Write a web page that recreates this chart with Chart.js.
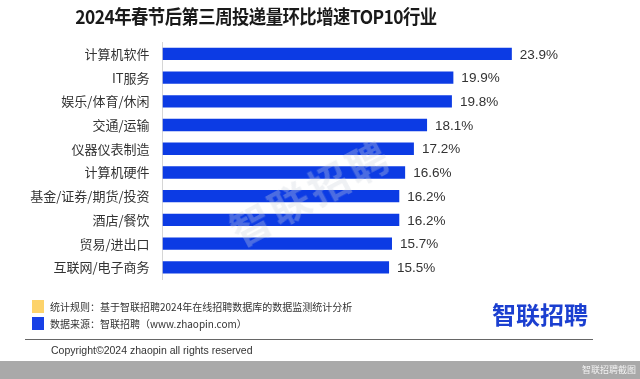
<!DOCTYPE html>
<html>
<head>
<meta charset="utf-8">
<script src="https://cdn.jsdelivr.net/npm/chart.js@4.4.1/dist/chart.umd.min.js"></script>
<style>
  html, body { margin: 0; padding: 0; background: #fff; }
  body { width: 640px; height: 379px; position: relative; overflow: hidden;
         font-family: "Noto Sans CJK SC", "Noto Sans", sans-serif; }
  #wrap { position: absolute; left: 0; top: 0; width: 640px; height: 300px; }
  .abs { position: absolute; white-space: nowrap; }
  #title { left: 0; width: 512px; top: 2px; text-align: center; font-size: 19px; font-weight: bold;
           color: #1a1a1a; letter-spacing: -0.6px; transform: scaleX(0.915); transform-origin: 256px 0; }
  .sq { position: absolute; width: 12px; height: 13px; }
  .foot { font-size: 10px; color: #333; }
  #logo { left: 492px; top: 296px; font-size: 24px; font-weight: bold; color: #1b3fd0; }
  #hr { left: 25px; top: 339px; width: 568px; height: 0; border-top: 1.5px solid #666; }
  #copy { left: 51px; top: 344px; font-size: 10.5px; color: #333; font-family: "Liberation Sans", Arial, sans-serif; }
  #band { left: 0; top: 361px; width: 640px; height: 18px; background: #a9a9a9; }
  #bandtxt { right: 4px; top: 363px; font-size: 9px; color: #f2f2f2; }
  #wm { left: 222px; top: 162px; font-size: 40px; font-weight: bold; color: rgba(205,210,222,0.32);
        transform: rotate(-28deg); transform-origin: center; pointer-events: none; letter-spacing: 4px; }
</style>
</head>
<body>
<div id="wrap"><canvas id="c" width="640" height="300"></canvas></div>
<div class="abs" id="title">2024年春节后第三周投递量环比增速TOP10行业</div>
<div class="abs" id="wm">智联招聘</div>
<div class="sq" style="left:32px;top:300px;background:#fdd36b;"></div>
<div class="sq" style="left:32px;top:317px;background:#1740e6;"></div>
<div class="abs foot" style="left:50px;top:299px;">统计规则：基于智联招聘2024年在线招聘数据库的数据监测统计分析</div>
<div class="abs foot" style="left:50px;top:316px;">数据来源：智联招聘（www.zhaopin.com）</div>
<div class="abs" id="logo">智联招聘</div>
<div class="abs" id="hr"></div>
<div class="abs" id="copy">Copyright©2024 zhaopin all rights reserved</div>
<div class="abs" id="band"></div>
<div class="abs" id="bandtxt">智联招聘截图</div>
<script>
const categories = ["计算机软件", "IT服务", "娱乐/体育/休闲", "交通/运输", "仪器仪表制造",
                    "计算机硬件", "基金/证券/期货/投资", "酒店/餐饮", "贸易/进出口", "互联网/电子商务"];
const growthValues = [23.9, 19.9, 19.8, 18.1, 17.2, 16.6, 16.2, 16.2, 15.7, 15.5];
const valueLabels = ["23.9%", "19.9%", "19.8%", "18.1%", "17.2%", "16.6%", "16.2%", "16.2%", "15.7%", "15.5%"];

const valueLabelPlugin = {
  id: 'valueLabels',
  afterDatasetsDraw(chart) {
    const ctx = chart.ctx;
    const meta = chart.getDatasetMeta(0);
    ctx.save();
    ctx.font = '13.5px "Liberation Sans", Arial, sans-serif';
    ctx.fillStyle = '#333';
    ctx.textAlign = 'left';
    ctx.textBaseline = 'middle';
    meta.data.forEach((bar, i) => {
      ctx.fillText(valueLabels[i], bar.x + 8, bar.y + 1);
    });
    ctx.restore();
  }
};

new Chart(document.getElementById('c'), {
  type: 'bar',
  data: {
    labels: categories,
    datasets: [{
      data: growthValues,
      backgroundColor: '#0c3be4',
      borderWidth: 0,
      barPercentage: 0.52,
      categoryPercentage: 1.0
    }]
  },
  options: {
    indexAxis: 'y',
    responsive: false,
    animation: false,
    layout: { padding: { top: 42, bottom: 15, right: 39, left: 0 } },
    plugins: { legend: { display: false }, tooltip: { enabled: false } },
    scales: {
      x: { display: false, min: 0, max: 30 },
      y: {
        afterFit(scale) { scale.width = 162.5; },
        grid: { display: false, drawTicks: false },
        border: { display: true, color: '#d6d6d6', width: 1 },
        ticks: { padding: 13, color: '#333',
                 font: { size: 13, family: '"Noto Sans CJK SC", sans-serif' } }
      }
    }
  },
  plugins: [valueLabelPlugin]
});
</script>
</body>
</html>
